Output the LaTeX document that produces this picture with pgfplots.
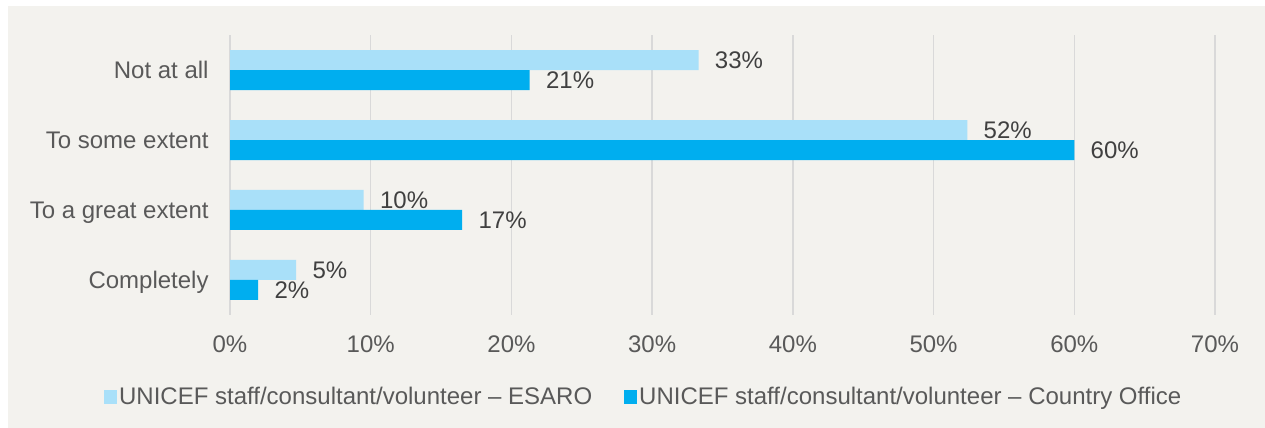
\documentclass[border=0pt]{standalone}
\usepackage{pgfplots}
\pgfplotsset{compat=1.18}
\usepackage{fontspec}
\setmainfont{Liberation Sans}
\definecolor{bg}{HTML}{F3F2EE}
\definecolor{lightb}{HTML}{A9E0F9}
\definecolor{darkb}{HTML}{00AEEF}
\definecolor{gridg}{HTML}{D9D9D9}
\definecolor{txt}{HTML}{595959}
\definecolor{lab}{HTML}{404040}
\begin{document}
\begin{tikzpicture}
\path[use as bounding box] (0,0) rectangle (632.5pt,214pt);
\fill[bg] (4pt,0) rectangle (632.5pt,211pt);
\begin{axis}[
  at={(115pt,56.5pt)}, anchor=south west,
  scale only axis, width=492.5pt, height=140pt,
  xbar, bar width=10pt,
  xmin=0, xmax=70, ymin=-0.5, ymax=3.5,
  enlargelimits=false,
  xtick={0,10,...,70},
  xticklabels={0\%,10\%,20\%,30\%,40\%,50\%,60\%,70\%},
  ytick={0,1,2,3},
  yticklabels={Completely,To a great extent,To some extent,Not at all},
  xmajorgrids=true, ymajorgrids=false,
  major grid style={color=gridg, line width=0.75pt},
  axis line style={draw=none},
  tick style={draw=none}, major tick length=0pt,
  ticklabel style={font=\fontsize{12pt}{14pt}\selectfont, text=txt, inner sep=0pt},
  xticklabel style={anchor=base, yshift=-19pt},
  yticklabel style={anchor=base east, xshift=-10.5pt, yshift=-4.3pt},
  point meta=explicit symbolic,
  nodes near coords={\pgfplotspointmeta\%},
  every node near coord/.append style={font=\fontsize{12pt}{14pt}\selectfont, text=lab, inner sep=0pt, anchor=base west, xshift=8pt, yshift=-4.3pt},
  legend columns=2,
  legend style={at={(0.42,-0.293)}, anchor=center, draw=none, fill=none,
    font=\fontsize{12pt}{14pt}\selectfont, text=txt, inner sep=0pt,
    /tikz/every even column/.append style={column sep=15pt},
    nodes={inner sep=1pt}},
  legend image code/.code={\fill[#1] (0pt,-3.4pt) rectangle (6.5pt,3.4pt);},
]
\addplot[fill=lightb, draw=none, bar shift=5pt] table[x=x, y=y, meta=l] {
x y l
33.3 3 33
52.4 2 52
9.5 1 10
4.7 0 5
};
\addlegendentry{UNICEF staff/consultant/volunteer – ESARO}
\addplot[fill=darkb, draw=none, bar shift=-5pt] table[x=x, y=y, meta=l] {
x y l
21.3 3 21
60.0 2 60
16.5 1 17
2.0 0 2
};
\addlegendentry{UNICEF staff/consultant/volunteer – Country Office}
\end{axis}
\end{tikzpicture}
\end{document}
